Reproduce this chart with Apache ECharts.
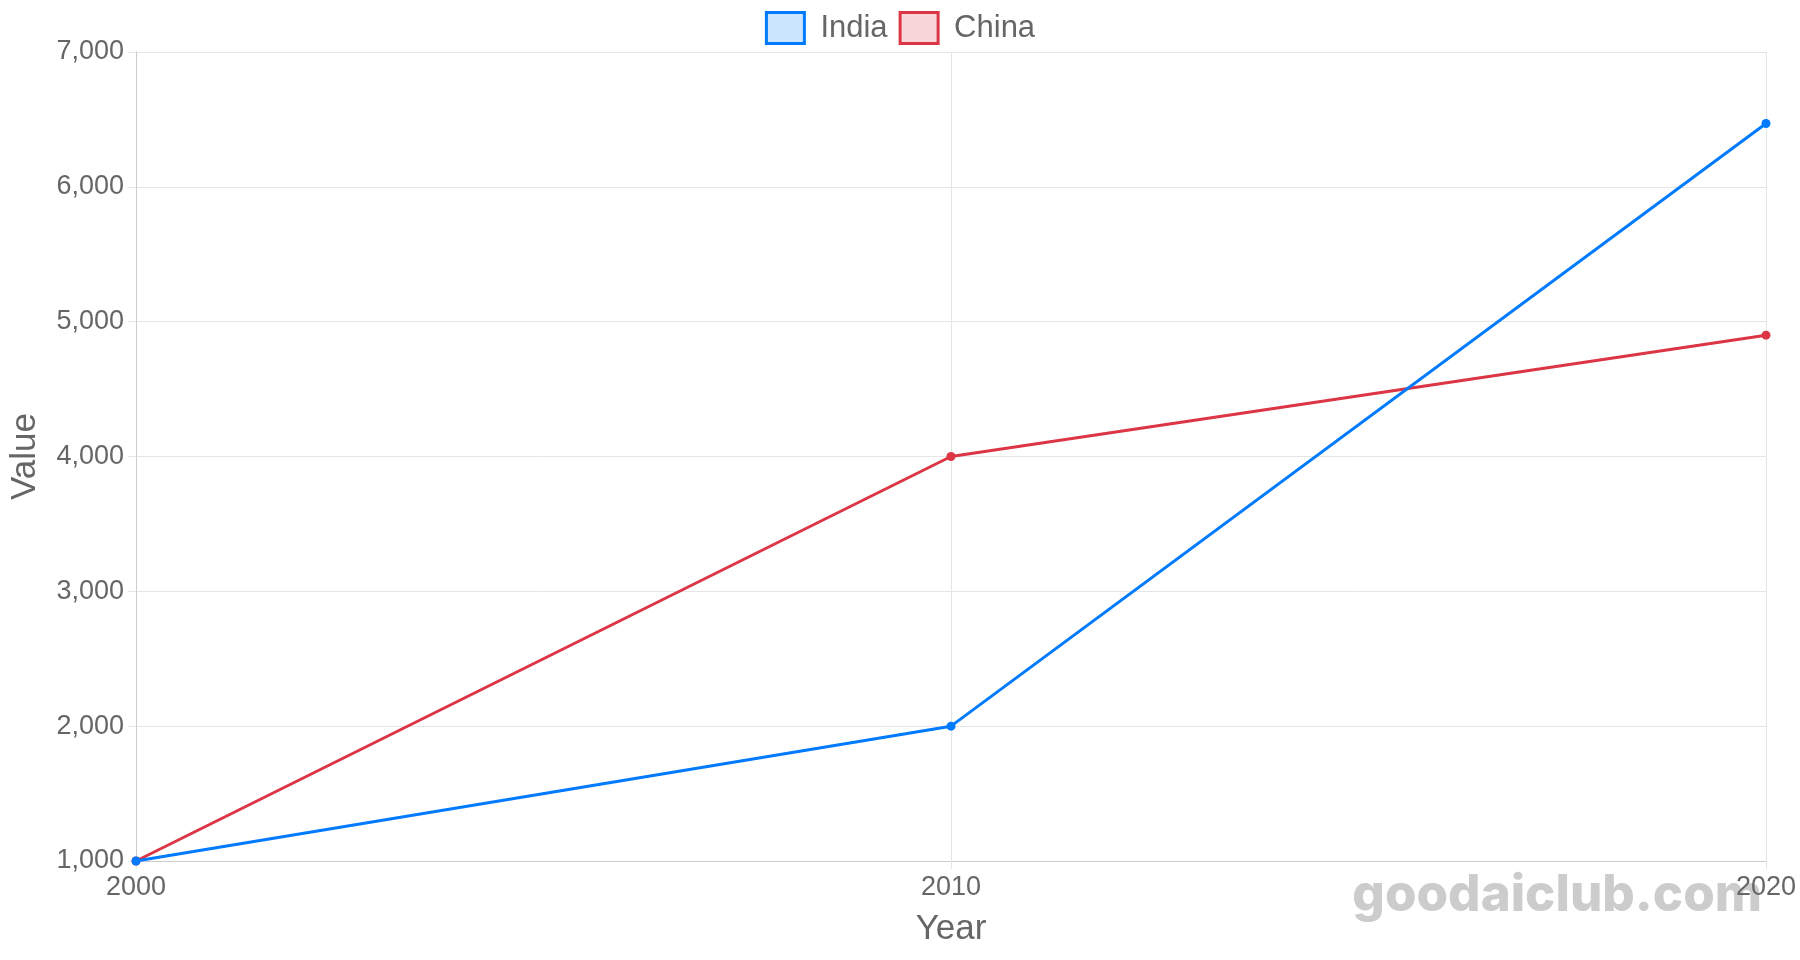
<!DOCTYPE html>
<html>
<head>
<meta charset="utf-8">
<title>India vs China</title>
<script src="https://cdn.jsdelivr.net/npm/echarts@6/dist/echarts.min.js"></script>
<style>
  html, body { margin: 0; padding: 0; background: #fff; }
  #chart { width: 1800px; height: 960px; }
</style>
</head>
<body>
<div id="chart"></div>
<script>
// data
const years = ['2000', '2010', '2020'];
const india = [1000, 2000, 6470];
const china = [1000, 4000, 4900];

const FONT = '"Liberation Sans", Arial, Helvetica, sans-serif';
const TEXT = '#666666';
const GRID = '#e5e5e5';
const AXIS = '#cccccc';

const chart = echarts.init(document.getElementById('chart'));

const option = {
  animation: false,
  textStyle: { fontFamily: FONT },
  legend: {
    top: 6,
    left: 'center',
    icon: 'rect',
    itemWidth: 38,
    itemHeight: 31,
    itemGap: 11,
    textStyle: { fontSize: 31, color: TEXT, fontFamily: FONT, padding: [0, 0, 0, 11] },
    data: [
      { name: 'India', itemStyle: { color: 'rgba(0,123,255,0.2)', borderColor: '#007bff', borderWidth: 3 } },
      { name: 'China', itemStyle: { color: 'rgba(220,53,69,0.2)', borderColor: '#dc3545', borderWidth: 3 } }
    ]
  },
  grid: { left: 135, right: 34, top: 52, bottom: 99, containLabel: false },
  xAxis: {
    type: 'category',
    data: years,
    boundaryGap: false,
    name: 'Year',
    nameLocation: 'middle',
    nameGap: 51,
    nameTextStyle: { fontSize: 35, color: TEXT, fontFamily: FONT },
    axisLine: { lineStyle: { color: AXIS, width: 1 } },
    axisTick: { show: true, length: 8, lineStyle: { color: GRID } },
    axisLabel: { fontSize: 27, color: TEXT, margin: 13, fontFamily: FONT },
    splitLine: { show: true, lineStyle: { color: GRID, width: 1 } }
  },
  yAxis: {
    type: 'value',
    min: 1000,
    max: 7000,
    interval: 1000,
    name: 'Value',
    nameLocation: 'middle',
    nameRotate: 90,
    nameGap: 93,
    nameTextStyle: { fontSize: 35, color: TEXT, fontFamily: FONT },
    axisLine: { show: true, lineStyle: { color: AXIS, width: 1 } },
    axisTick: { show: true, length: 8, lineStyle: { color: GRID } },
    axisLabel: {
      fontSize: 27, color: TEXT, margin: 12, fontFamily: FONT,
      formatter: v => v.toLocaleString('en-US')
    },
    splitLine: { show: true, lineStyle: { color: GRID, width: 1 } }
  },
  graphic: [{
    type: 'text',
    right: 38,
    top: 870,
    z: -10,
    silent: true,
    style: {
      text: 'goodaiclub.com',
      font: '800 51px Inter, "Liberation Sans", sans-serif',
      fill: '#cccccc'
    }
  }],
  series: [
    {
      name: 'India',
      type: 'line',
      data: india,
      symbol: 'circle',
      symbolSize: 9,
      color: '#007bff',
      lineStyle: { width: 3, color: '#007bff' },
      itemStyle: { color: '#007bff' },
      z: 3
    },
    {
      name: 'China',
      type: 'line',
      data: china,
      symbol: 'circle',
      symbolSize: 9,
      color: '#dc3545',
      lineStyle: { width: 3, color: '#dc3545' },
      itemStyle: { color: '#dc3545' },
      z: 2
    }
  ]
};

chart.setOption(option);
</script>
</body>
</html>
